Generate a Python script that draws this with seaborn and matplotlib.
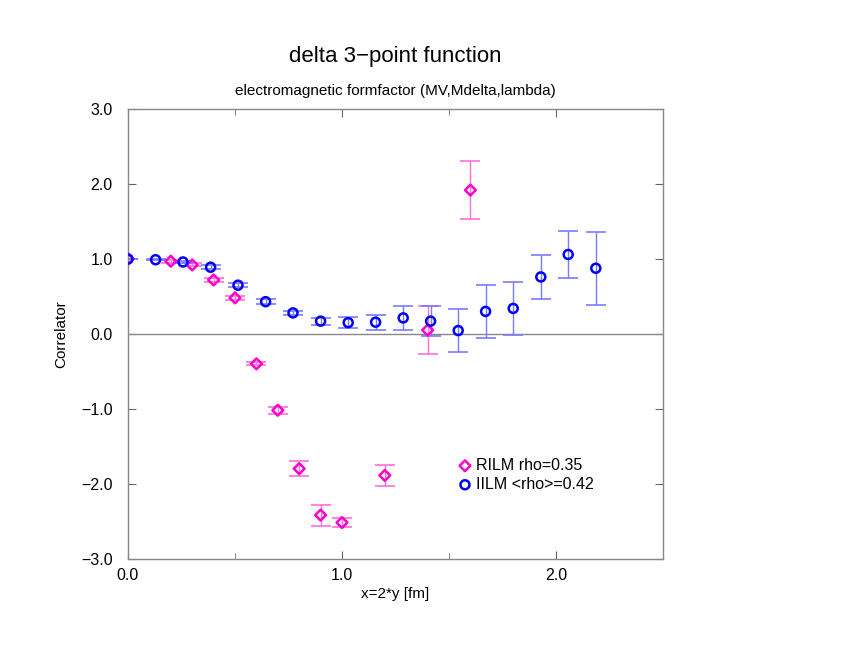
import matplotlib
matplotlib.use("Agg")
import matplotlib.pyplot as plt
import seaborn as sns
import pandas as pd
from matplotlib.ticker import MultipleLocator, FuncFormatter

# IILM <rho>=0.42 (blue circles)
iilm_x = [0.0, 0.129, 0.257, 0.386, 0.514, 0.643, 0.771, 0.9, 1.029,
          1.157, 1.286, 1.414, 1.543, 1.671, 1.8, 1.929, 2.057, 2.186]
iilm_y = [1.0, 0.99, 0.96, 0.89, 0.65, 0.43, 0.28, 0.17, 0.15,
          0.156, 0.213, 0.17, 0.044, 0.30, 0.34, 0.76, 1.06, 0.876]
iilm_err = [0.005, 0.01, 0.015, 0.03, 0.03, 0.03, 0.03, 0.045, 0.07,
            0.1, 0.155, 0.2, 0.29, 0.35, 0.35, 0.29, 0.32, 0.49]

# RILM rho=0.35 (magenta diamonds)
rilm_x = [0.0, 0.2, 0.3, 0.4, 0.5, 0.6, 0.7, 0.8, 0.9, 1.0, 1.2, 1.4, 1.6]
rilm_y = [1.0, 0.97, 0.92, 0.72, 0.48, -0.40, -1.02, -1.80, -2.42, -2.52,
          -1.89, 0.05, 1.92]
rilm_err = [0.005, 0.02, 0.02, 0.027, 0.027, 0.02, 0.045, 0.1, 0.14, 0.065,
            0.14, 0.32, 0.39]

sns.set_style("ticks")
plt.rcParams['font.family'] = ['Liberation Sans', 'DejaVu Sans']
plt.rcParams['text.color'] = 'black'
plt.rcParams['axes.labelcolor'] = 'black'
plt.rcParams['xtick.labelcolor'] = 'black'
plt.rcParams['ytick.labelcolor'] = 'black'

df_r = pd.DataFrame({'x': rilm_x, 'y': rilm_y, 'err': rilm_err})
df_i = pd.DataFrame({'x': iilm_x, 'y': iilm_y, 'err': iilm_err})

fig = plt.figure(figsize=(8.46, 6.54), dpi=100)
ax = fig.add_axes([0.1513, 0.146, 0.6324, 0.687])

ax.axhline(0, color='#888888', lw=1, zorder=1)

magenta = '#ff00cc'
blue = '#0000ff'

# error bars
ax.errorbar(df_r['x'], df_r['y'], yerr=df_r['err'], fmt='none',
            ecolor='#ff70dc', elinewidth=1, capsize=7, capthick=1.2, zorder=2)
ax.errorbar(df_i['x'], df_i['y'], yerr=df_i['err'], fmt='none',
            ecolor='#7a7aff', elinewidth=1, capsize=7, capthick=1.2, zorder=2)

sns.scatterplot(data=df_r, x='x', y='y', marker='D', s=30, facecolor='none',
                edgecolor=magenta, linewidth=1.8, ax=ax, zorder=3,
                label='RILM rho=0.35')
sns.scatterplot(data=df_i, x='x', y='y', marker='o', s=42, facecolor='none',
                edgecolor=blue, linewidth=1.8, ax=ax, zorder=4,
                label='IILM <rho>=0.42')

fmt = FuncFormatter(lambda v, p: ('%.1f' % v).replace('-', '\u2212'))
ax.set_xlim(0, 2.5)
ax.set_ylim(-3, 3)
ax.xaxis.set_major_locator(MultipleLocator(1.0))
ax.xaxis.set_minor_locator(MultipleLocator(0.5))
ax.yaxis.set_major_locator(MultipleLocator(1.0))
ax.xaxis.set_major_formatter(fmt)
ax.yaxis.set_major_formatter(fmt)
ax.tick_params(which='both', direction='in', top=True, right=True,
               color='#666666', labelsize=11.5)
ax.tick_params(which='major', length=6)
ax.tick_params(which='minor', length=4)
ax.tick_params(axis='y', pad=11)
ax.tick_params(axis='x', pad=7)
for s in ax.spines.values():
    s.set_color('#888888')
    s.set_linewidth(1)

ax.set_xlabel('x=2*y [fm]', fontsize=11, labelpad=3)
ax.set_ylabel('Correlator', fontsize=11, labelpad=9)

fig.text(0.4675, 0.914, 'delta 3\u2212point function', ha='center',
         va='center', fontsize=16)
fig.text(0.4675, 0.861, 'electromagnetic formfactor (MV,Mdelta,lambda)',
         ha='center', va='center', fontsize=11)

leg = ax.legend(loc='upper left', bbox_to_anchor=(0.6, 0.238), frameon=False,
                fontsize=11.5, handletextpad=0.1, labelspacing=0.25,
                handlelength=1.2, borderaxespad=0)

fig.savefig('out.png', dpi=100)
